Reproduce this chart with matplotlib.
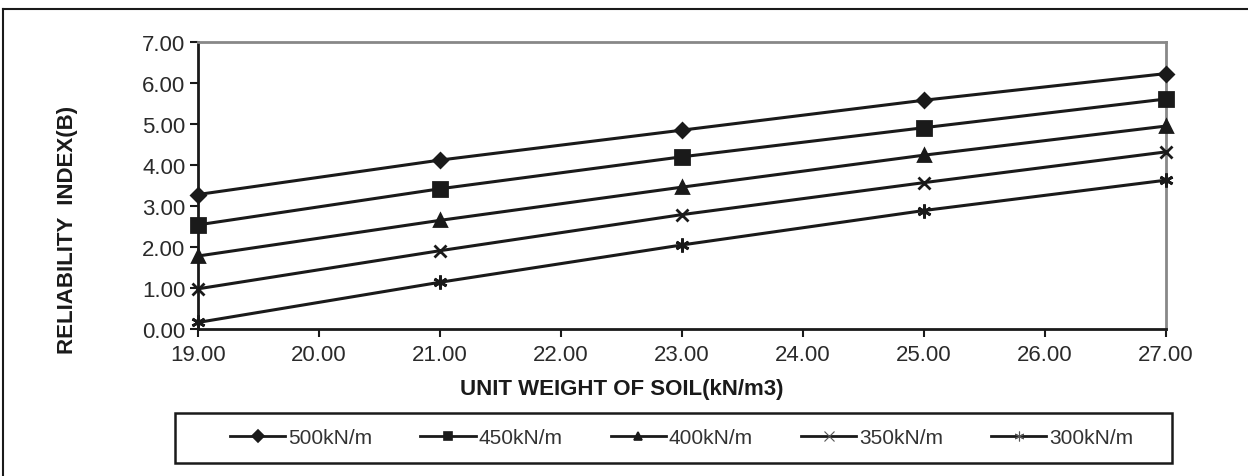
import matplotlib.pyplot as plt
from matplotlib.lines import Line2D
from matplotlib.patches import Rectangle

plt.rcParams['font.family'] = ['Liberation Sans', 'DejaVu Sans']

unit_weight = [19, 21, 23, 25, 27]
load_labels = ['500kN/m', '450kN/m', '400kN/m', '350kN/m', '300kN/m']
beta_500 = [3.28, 4.12, 4.85, 5.58, 6.23]
beta_450 = [2.54, 3.42, 4.20, 4.91, 5.61]
beta_400 = [1.78, 2.65, 3.46, 4.24, 4.95]
beta_350 = [0.98, 1.91, 2.79, 3.57, 4.32]
beta_300 = [0.16, 1.14, 2.05, 2.89, 3.63]

series = [beta_500, beta_450, beta_400, beta_350, beta_300]
markers = ['D', 's', '^', 'x', (6, 2, 0)]
msizes = [7, 10, 8, 9, 10]

ink = '#1a1a1a'
W, H = 1248, 477
fig = plt.figure(figsize=(W / 100, H / 100), dpi=100)
ax = fig.add_axes([198 / W, 1 - 330 / H, (1166 - 198) / W, (330 - 43) / H])

for vals, lab, m, ms in zip(series, load_labels, markers, msizes):
    ax.plot(unit_weight, vals, color=ink, lw=2.2, marker=m, markersize=ms,
            markeredgewidth=2, markerfacecolor=ink, markeredgecolor=ink,
            label=lab, clip_on=False, zorder=3)

ax.set_xlim(19, 27)
ax.set_ylim(0, 7)
ax.set_xticks(range(19, 28))
ax.set_xticklabels([f'{v:.2f}' for v in range(19, 28)])
ax.set_yticks(range(0, 8))
ax.set_yticklabels([f'{v:.2f}' for v in range(0, 8)])
ax.tick_params(direction='out', length=6, width=1.5, labelsize=16,
               labelcolor='#2a2a2a', color=ink)
ax.tick_params(axis='x', pad=5)
ax.tick_params(axis='y', pad=3)

for s in ['left', 'bottom']:
    ax.spines[s].set_color(ink)
    ax.spines[s].set_linewidth(2)
for s in ['top', 'right']:
    ax.spines[s].set_color('#888888')
    ax.spines[s].set_linewidth(2)

ax.set_xlabel('UNIT WEIGHT OF SOIL(kN/m3)', fontsize=16, fontweight='bold', color=ink)
ax.xaxis.set_label_coords((622 - 198) / (1166 - 198), -(390 - 330) / (330 - 43))
ax.set_ylabel('RELIABILITY  INDEX(B)', fontsize=16, fontweight='bold', color=ink)
ax.yaxis.set_label_coords(-(198 - 67) / (1166 - 198), (330 - 230) / (330 - 43))
ax.yaxis.label.set_va('center')
ax.xaxis.label.set_va('center')

# legend frame and entries
fig.add_artist(Rectangle((175 / W, 1 - 464 / H), (1172 - 175) / W, (464 - 414) / H,
                         transform=fig.transFigure, fill=False, edgecolor=ink, lw=1.8))
leg_handles = []
for m in markers:
    thin = m in ('x', (6, 2, 0))
    leg_handles.append(Line2D([], [], color=ink, lw=2, marker=m, markersize=7 if thin else 6,
                              markeredgewidth=0.8 if thin else 1.2,
                              markerfacecolor=ink,
                              markeredgecolor='#555555' if thin else ink))
leg = fig.legend(leg_handles, load_labels, loc='center left',
                 bbox_to_anchor=(230 / W, 1 - 439 / H), ncol=5, fontsize=15,
                 frameon=False, handlelength=2.65, handletextpad=0.15,
                 columnspacing=2.3, borderaxespad=0, borderpad=0)
for t in leg.get_texts():
    t.set_color('#333333')

# outer frame lines of the figure
fig.add_artist(Line2D([3 / W, 3 / W], [0, 1 - 10 / H], transform=fig.transFigure,
                      color=ink, lw=1.5))
fig.add_artist(Line2D([3 / W, 1], [1 - 10 / H, 1 - 10 / H], transform=fig.transFigure,
                      color=ink, lw=1.5))

fig.savefig('out.png', dpi=100)
